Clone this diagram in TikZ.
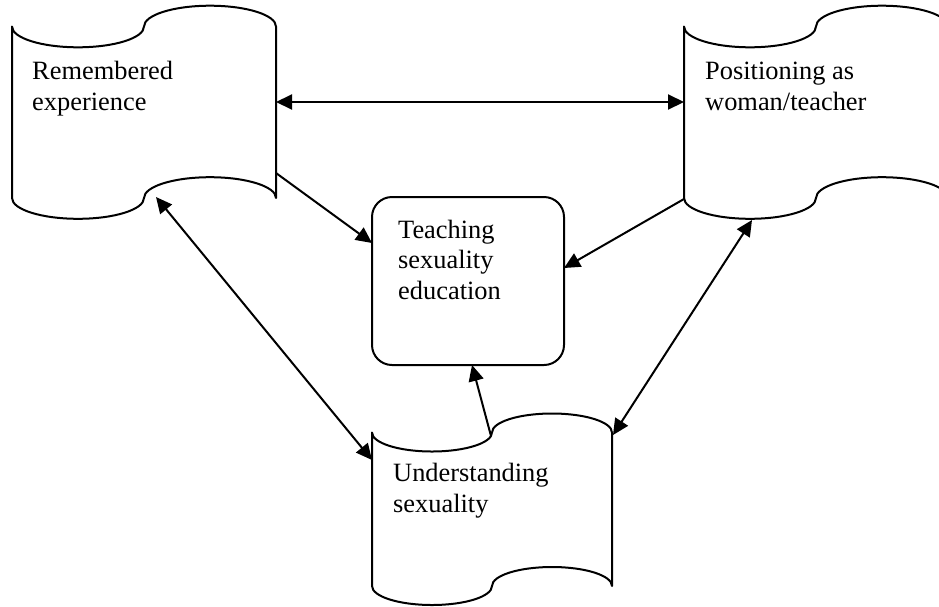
\documentclass[tikz,border=0pt]{standalone}
\usepackage{fontspec}
\setmainfont{Liberation Serif}
\usetikzlibrary{arrows.meta}
\newcommand\tapeshape[5]{% x0 x1 ytop ybottom amplitude (half-ellipse waves)
  \pgfmathsetmacro\tw{(#2-#1)/4}%
  \draw[outline] (#1,#3)
    arc[start angle=180, end angle=0, x radius=\tw, y radius=#5]
    arc[start angle=180, end angle=360, x radius=\tw, y radius=#5]
    -- (#2,#4)
    arc[start angle=0, end angle=-180, x radius=\tw, y radius=#5]
    arc[start angle=0, end angle=180, x radius=\tw, y radius=#5]
    -- cycle;}
\begin{document}
\begin{tikzpicture}[x=1pt,y=-1pt,
  outline/.style={draw=black, line width=2pt, line join=round},
  conn/.style={line width=2pt, -{Triangle[length=16pt,width=15pt]}},
  dconn/.style={line width=2pt, {Triangle[length=16pt,width=15pt]}-{Triangle[length=16pt,width=15pt]}},
  lbl/.style={anchor=base west, inner sep=0pt, align=left, font=\fontsize{26.4}{30.5}\selectfont}]
\useasboundingbox (0,0) rectangle (939,606);
\clip (0,0) rectangle (939,606);
% shapes
\tapeshape{12}{276}{26.5}{198}{20.8}
\tapeshape{684}{948}{26.5}{198}{20.8}
\tapeshape{372}{612}{432.5}{586}{19}
\node[outline, rounded corners=20pt, minimum width=192pt, minimum height=168pt, inner sep=0pt] (teach) at (468,281) {};
% texts (anchor = baseline of the last line)
\node[lbl] (rem) at (32,110) {Remembered\\experience};
\node[lbl] (pos) at (705,110) {Positioning as\\woman/teacher};
\node[lbl] (teachtxt) at (398,299) {Teaching\\sexuality\\education};
\node[lbl] (und) at (393,512) {Understanding\\sexuality};
% connector end points
\coordinate (remR) at (276,102);
\coordinate (posL) at (684,102);
\coordinate (remRB) at (276,173);
\coordinate (teachL) at (372,243);
\coordinate (posLB) at (684,199);
\coordinate (teachR) at (564,268);
\coordinate (posB) at (752,220);
\coordinate (undTR) at (613,435);
\coordinate (remB) at (156,197);
\coordinate (undL) at (372,460);
\coordinate (undT) at (491,436);
\coordinate (teachB) at (472,365);
% connectors
\draw[dconn] (remR) -- (posL);
\draw[conn] (remRB) -- (teachL);
\draw[conn] (posLB) -- (teachR);
\draw[dconn] (posB) -- (undTR);
\draw[dconn] (remB) -- (undL);
\draw[conn] (undT) -- (teachB);
\end{tikzpicture}
\end{document}
